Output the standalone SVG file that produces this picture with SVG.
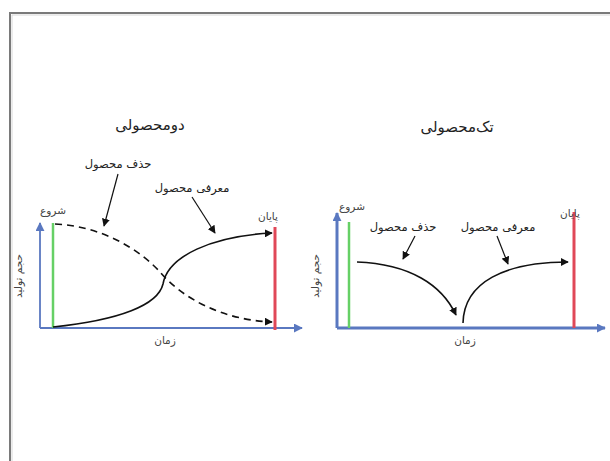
<svg xmlns="http://www.w3.org/2000/svg" width="610" height="461" viewBox="0 0 610 461">
<defs>
<style>
text{font-family:"DejaVu Sans","Noto Sans",sans-serif;fill:#222}
.t{font-size:15px}
.l{font-size:11.5px}
.s{font-size:10.5px;fill:#444}
.ax{stroke:#5a78c0;fill:none}
.g{stroke:#66d066;stroke-width:2.5}
.r{stroke:#e04858;stroke-width:3}
.c{stroke:#111;stroke-width:1.6;fill:none}
.p{stroke:#111;stroke-width:1.2;fill:none}
</style>
<marker id="ah" viewBox="0 0 10 10" refX="9" refY="5" markerWidth="8" markerHeight="8" markerUnits="userSpaceOnUse" orient="auto"><path d="M0,0L10,5L0,10z" fill="#111"/></marker>
<marker id="ab" viewBox="0 0 10 10" refX="9" refY="5" markerWidth="9" markerHeight="9" markerUnits="userSpaceOnUse" orient="auto"><path d="M0,0L10,5L0,10z" fill="#5a78c0"/></marker>
</defs>
<rect width="610" height="461" fill="#fff"/>
<path d="M10,461V13H610" fill="none" stroke="#7a7a7a" stroke-width="2"/>
<path d="M12,461V15H610" fill="none" stroke="#d8d8d8" stroke-width="1"/>

<g id="chart-left">
<text class="t" x="150" y="130" text-anchor="middle">دومحصولی</text>
<path class="ax" stroke-width="1.8" d="M40,328V223" marker-end="url(#ab)"/>
<path class="ax" stroke-width="1.8" d="M40,328H302" marker-end="url(#ab)"/>
<line class="g" x1="53" y1="223" x2="53" y2="328"/>
<line class="r" x1="275" y1="227" x2="275" y2="330"/>
<text class="s" x="53" y="214" text-anchor="middle">شروع</text>
<text class="s" x="268" y="220" text-anchor="middle">پایان</text>
<text class="s" x="165" y="344" text-anchor="middle">زمان</text>
<text class="s" transform="translate(22,276) rotate(-90)" text-anchor="middle">حجم تولید</text>
<text class="l" x="118" y="168" text-anchor="middle">حذف محصول</text>
<text class="l" x="192" y="192" text-anchor="middle">معرفی محصول</text>
</g>

<g id="chart-right">
<text class="t" x="457" y="132" text-anchor="middle">تک‌محصولی</text>
<path class="ax" stroke-width="3" d="M337,328V213" marker-end="url(#ab)"/>
<path class="ax" stroke-width="3" d="M337,328H605" marker-end="url(#ab)"/>
<line class="g" x1="349" y1="222" x2="349" y2="328"/>
<line class="r" x1="574" y1="212" x2="574" y2="328"/>
<text class="s" x="352" y="210" text-anchor="middle">شروع</text>
<text class="s" x="570" y="217" text-anchor="middle">پایان</text>
<text class="s" x="465" y="344" text-anchor="middle">زمان</text>
<text class="s" transform="translate(319,276) rotate(-90)" text-anchor="middle">حجم تولید</text>
<text class="l" x="403" y="231" text-anchor="middle">حذف محصول</text>
<text class="l" x="498" y="231" text-anchor="middle">معرفی محصول</text>
</g>

<g id="connectors">
<path class="c" d="M53,327C120,320 158,305 163,284C168,256 212,236 272,233" marker-end="url(#ah)"/>
<path class="c" stroke-dasharray="7,5" d="M55,224C100,226 138,248 160,272C182,298 222,320 272,322" marker-end="url(#ah)"/>
<path class="p" d="M118,174L104,226" marker-end="url(#ah)"/>
<path class="p" d="M192,197L215,233" marker-end="url(#ah)"/>
<path class="c" d="M357,262C410,264 442,285 456,315" marker-end="url(#ah)"/>
<path class="c" d="M463,323C464,282 505,262 568,262" marker-end="url(#ah)"/>
<path class="p" d="M415,236L403,259" marker-end="url(#ah)"/>
<path class="p" d="M497,236L508,264" marker-end="url(#ah)"/>
</g>
</svg>
